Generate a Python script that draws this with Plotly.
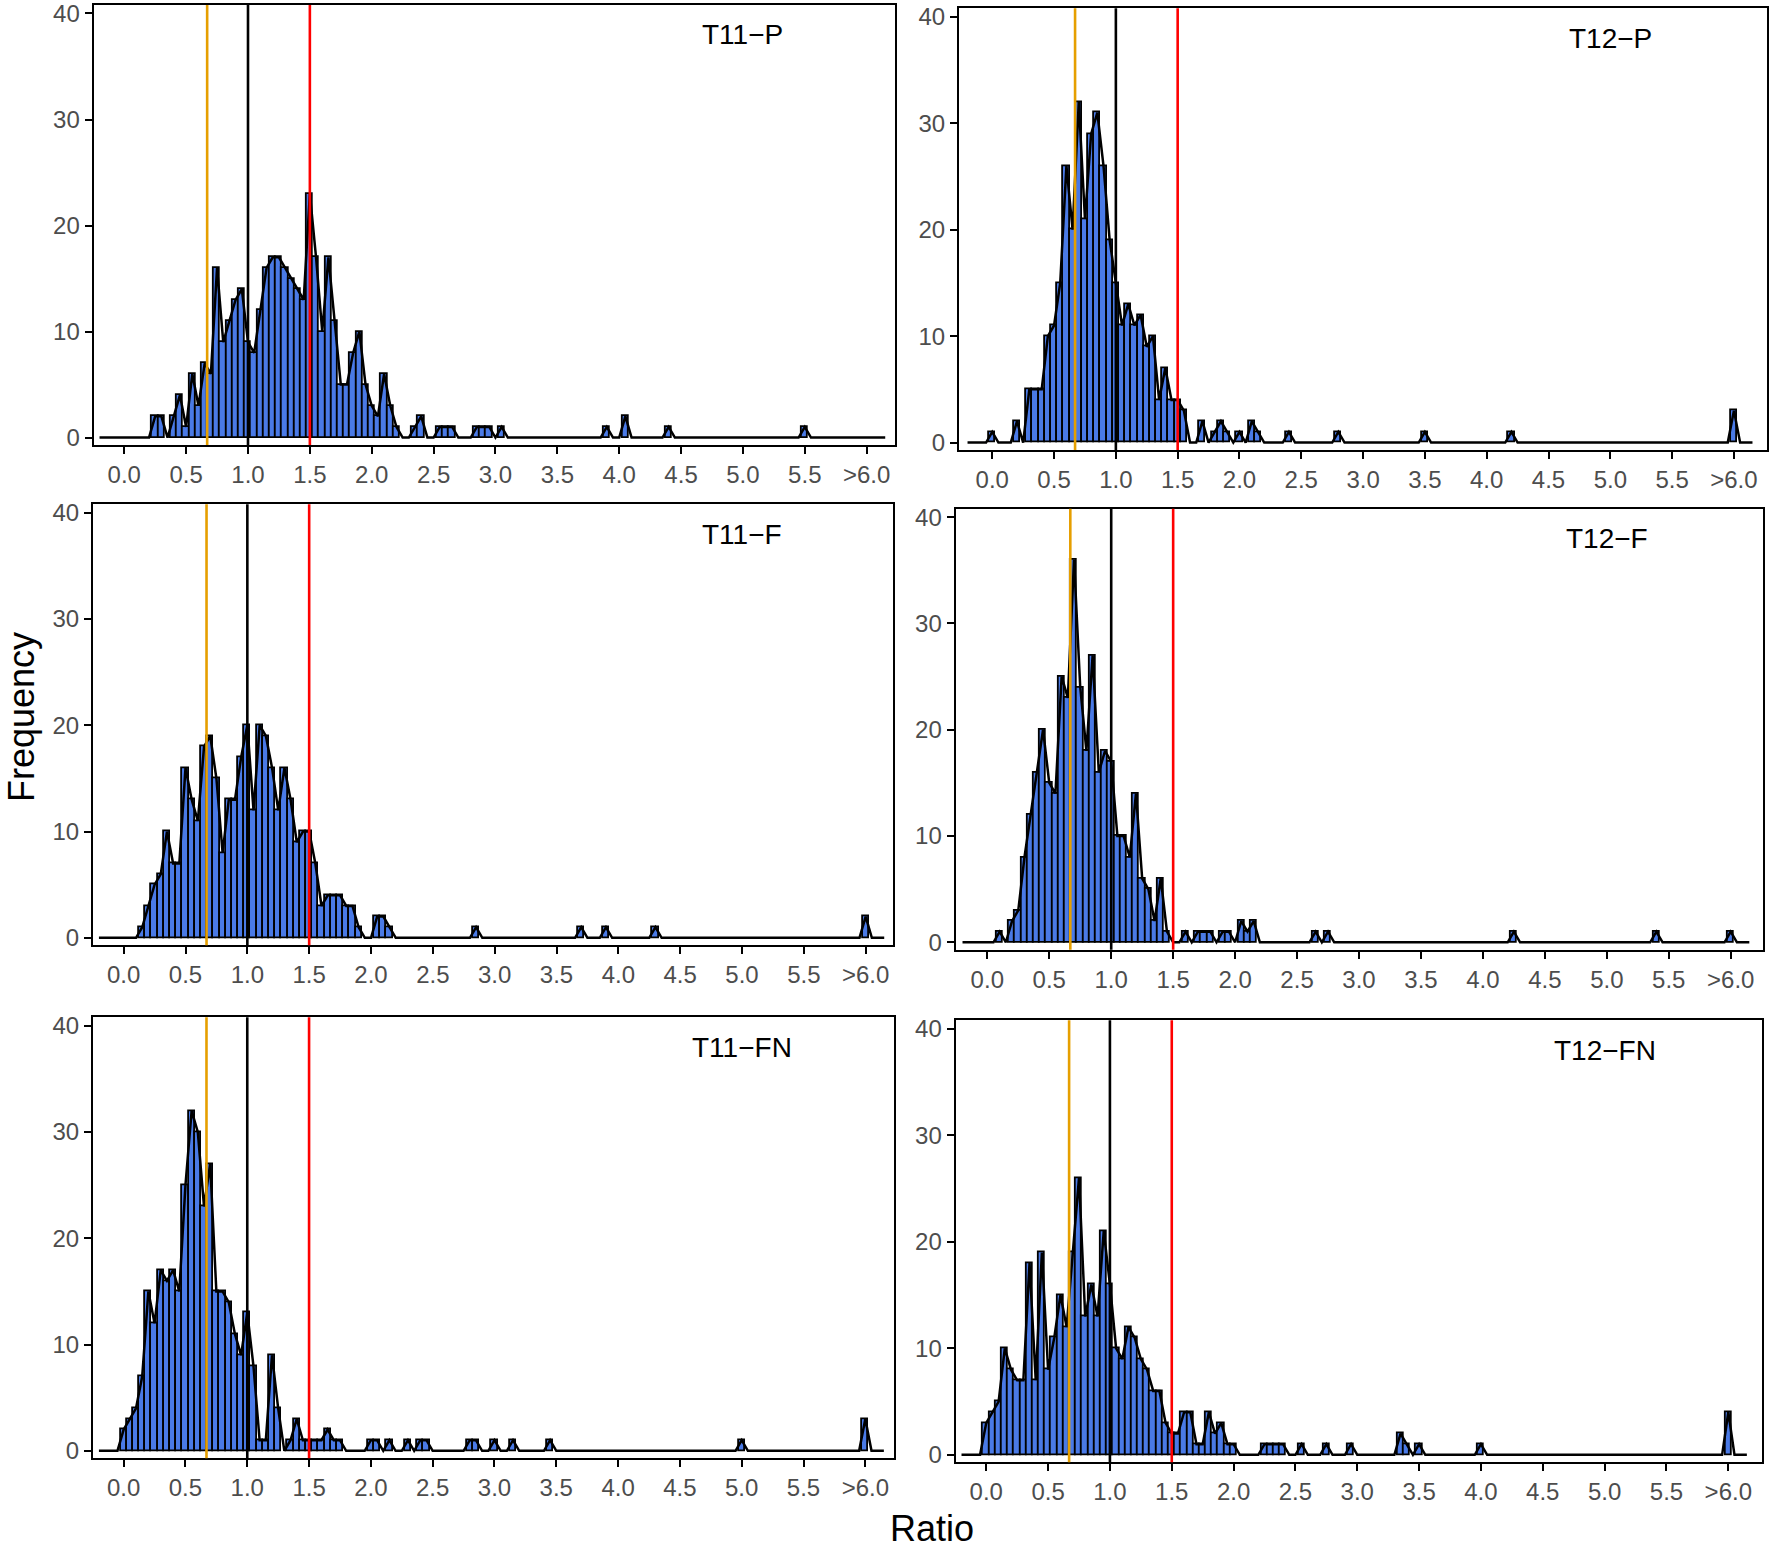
import numpy as np
import plotly.graph_objects as go

# ---------------- data (bin centre, count) ----------------
x_tick_vals = [0.0, 0.5, 1.0, 1.5, 2.0, 2.5, 3.0, 3.5, 4.0, 4.5, 5.0, 5.5, 6.0]
x_tick_text = ["0.0", "0.5", "1.0", "1.5", "2.0", "2.5", "3.0", "3.5", "4.0", "4.5", "5.0", "5.5", ">6.0"]
y_tick_vals = [0, 10, 20, 30, 40]

panel_names = ["T11\u2212P", "T12\u2212P", "T11\u2212F", "T12\u2212F", "T11\u2212FN", "T12\u2212FN"]

t11p_bins = [0.25, 0.30, 0.40, 0.45, 0.50, 0.55, 0.60, 0.65, 0.70, 0.75, 0.80, 0.85, 0.90, 0.95,
             1.00, 1.05, 1.10, 1.15, 1.20, 1.25, 1.30, 1.35, 1.40, 1.45, 1.50, 1.55, 1.60, 1.65,
             1.70, 1.75, 1.80, 1.85, 1.90, 1.95, 2.00, 2.05, 2.10, 2.15, 2.20, 2.35, 2.40, 2.55,
             2.60, 2.65, 2.85, 2.90, 2.95, 3.05, 3.90, 4.05, 4.40, 5.50]
t11p_counts = [2, 2, 2, 4, 1, 6, 3, 7, 6, 16, 9, 11, 13, 14,
               9, 8, 12, 16, 17, 17, 16, 15, 14, 13, 23, 17, 10, 17,
               11, 5, 5, 8, 10, 5, 3, 2, 6, 3, 1, 1, 2, 1,
               1, 1, 1, 1, 1, 1, 1, 2, 1, 1]

t12p_bins = [0.00, 0.20, 0.30, 0.35, 0.40, 0.45, 0.50, 0.55, 0.60, 0.65, 0.70, 0.75, 0.80, 0.85,
             0.90, 0.95, 1.00, 1.05, 1.10, 1.15, 1.20, 1.25, 1.30, 1.35, 1.40, 1.45, 1.50, 1.55,
             1.70, 1.80, 1.85, 1.90, 2.00, 2.10, 2.15, 2.40, 2.80, 3.50, 4.20, 6.00]
t12p_counts = [1, 2, 5, 5, 5, 10, 11, 15, 26, 20, 32, 21, 29, 31,
               26, 19, 15, 11, 13, 11, 12, 9, 10, 4, 7, 4, 4, 3,
               2, 1, 2, 1, 1, 2, 1, 1, 1, 1, 1, 3]

t11f_bins = [0.15, 0.20, 0.25, 0.30, 0.35, 0.40, 0.45, 0.50, 0.55, 0.60, 0.65, 0.70, 0.75, 0.80,
             0.85, 0.90, 0.95, 1.00, 1.05, 1.10, 1.15, 1.20, 1.25, 1.30, 1.35, 1.40, 1.45, 1.50,
             1.55, 1.60, 1.65, 1.70, 1.75, 1.80, 1.85, 1.90, 2.05, 2.10, 2.15, 2.85, 3.70, 3.90,
             4.30, 6.00]
t11f_counts = [1, 3, 5, 6, 10, 7, 7, 16, 13, 11, 18, 19, 15, 8,
               13, 13, 17, 20, 12, 20, 19, 16, 12, 16, 13, 9, 10, 10,
               7, 3, 4, 4, 4, 3, 3, 1, 2, 2, 1, 1, 1, 1,
               1, 2]

t12f_bins = [0.10, 0.20, 0.25, 0.30, 0.35, 0.40, 0.45, 0.50, 0.55, 0.60, 0.65, 0.70, 0.75, 0.80,
             0.85, 0.90, 0.95, 1.00, 1.05, 1.10, 1.15, 1.20, 1.25, 1.30, 1.35, 1.40, 1.45, 1.60,
             1.70, 1.75, 1.80, 1.90, 1.95, 2.05, 2.10, 2.15, 2.65, 2.75, 4.25, 5.40, 6.00]
t12f_counts = [1, 2, 3, 8, 12, 16, 20, 15, 14, 25, 23, 36, 24, 18,
               27, 16, 18, 17, 10, 10, 8, 14, 6, 5, 2, 6, 1, 1,
               1, 1, 1, 1, 1, 2, 1, 2, 1, 1, 1, 1, 1]

t11fn_bins = [0.00, 0.05, 0.10, 0.15, 0.20, 0.25, 0.30, 0.35, 0.40, 0.45, 0.50, 0.55, 0.60, 0.65,
              0.70, 0.75, 0.80, 0.85, 0.90, 0.95, 1.00, 1.05, 1.10, 1.15, 1.20, 1.25, 1.35, 1.40,
              1.45, 1.50, 1.55, 1.60, 1.65, 1.70, 1.75, 2.00, 2.05, 2.15, 2.30, 2.40, 2.45, 2.80,
              2.85, 3.00, 3.15, 3.45, 5.00, 6.00]
t11fn_counts = [2, 3, 4, 7, 15, 12, 17, 16, 17, 15, 25, 32, 30, 23,
                27, 15, 15, 14, 11, 9, 13, 8, 1, 1, 9, 4, 1, 3,
                1, 1, 1, 1, 2, 1, 1, 1, 1, 1, 1, 1, 1, 1,
                1, 1, 1, 1, 1, 3]

t12fn_bins = [0.00, 0.05, 0.10, 0.15, 0.20, 0.25, 0.30, 0.35, 0.40, 0.45, 0.50, 0.55, 0.60, 0.65,
              0.70, 0.75, 0.80, 0.85, 0.90, 0.95, 1.00, 1.05, 1.10, 1.15, 1.20, 1.25, 1.30, 1.35,
              1.40, 1.45, 1.50, 1.55, 1.60, 1.65, 1.70, 1.75, 1.80, 1.85, 1.90, 1.95, 2.00, 2.25,
              2.30, 2.35, 2.40, 2.55, 2.75, 2.95, 3.35, 3.40, 3.50, 4.00, 6.00]
t12fn_counts = [3, 4, 5, 10, 8, 7, 7, 18, 7, 19, 8, 11, 15, 12,
                19, 26, 13, 16, 13, 21, 16, 10, 9, 12, 11, 9, 8, 6,
                6, 3, 2, 2, 4, 4, 1, 1, 4, 2, 3, 1, 1, 1,
                1, 1, 1, 1, 1, 1, 2, 1, 1, 1, 4]

ref_lines = [0.67, 1.0, 1.5]

# ---------------- styling / layout ----------------
W, H = 1770, 1551
BIN_W = 0.05
BAR_FILL = "#4A7AE6"
LINE_COLORS = ["#E69F00", "#000000", "#FF0000"]
FONT = "Liberation Sans, Arial, sans-serif"

# panel boxes in pixels (x0, x1, y0, y1) and x ranges
panels = [
    (t11p_bins, t11p_counts, (93.7, 895.0, 5.0, 445.0), (-0.247, 6.229)),
    (t12p_bins, t12p_counts, (959.0, 1766.7, 8.3, 450.0), (-0.269, 6.265)),
    (t11f_bins, t11f_counts, (93.0, 893.0, 504.3, 945.3), (-0.248, 6.221)),
    (t12f_bins, t12f_counts, (955.7, 1762.7, 508.7, 949.7), (-0.255, 6.258)),
    (t11fn_bins, t11fn_counts, (93.0, 894.0, 1017.3, 1458.3), (-0.248, 6.232)),
    (t12fn_bins, t12fn_counts, (955.7, 1761.7, 1020.3, 1462.3), (-0.247, 6.270)),
]
Y_RANGE = [-0.7, 40.8]

# full bin grid used by the frequency polygon
grid = np.round(np.arange(-0.20, 6.15 + 1e-9, BIN_W), 2)

fig = go.Figure()
layout = dict(
    width=W, height=H,
    margin=dict(l=0, r=0, t=0, b=0, autoexpand=False),
    paper_bgcolor="white", plot_bgcolor="white",
    showlegend=False,
    font=dict(family=FONT),
)
shapes = []
annotations = []

for i, (bins, counts, box, xr) in enumerate(panels, start=1):
    xa = "x" if i == 1 else f"x{i}"
    ya = "y" if i == 1 else f"y{i}"
    fig.add_trace(go.Bar(
        x=bins, y=counts, width=BIN_W,
        marker=dict(color=BAR_FILL, line=dict(color="black", width=1.8)),
        xaxis=xa, yaxis=ya, hoverinfo="x+y",
    ))
    lookup = {round(b, 2): c for b, c in zip(bins, counts)}
    poly = [lookup.get(round(float(g), 2), 0) for g in grid]
    fig.add_trace(go.Scatter(
        x=grid, y=poly, mode="lines",
        line=dict(color="black", width=2.5),
        xaxis=xa, yaxis=ya, hoverinfo="skip",
    ))
    x0, x1, y0, y1 = box
    axis_common = dict(
        showline=True, mirror=True, linecolor="black", linewidth=2.2,
        showgrid=False, zeroline=False,
        ticks="outside", ticklen=7, tickwidth=2.2, tickcolor="black",
        tickfont=dict(size=24, color="#4D4D4D", family=FONT),
        ticklabeloverflow="allow",
    )
    layout["xaxis" if i == 1 else f"xaxis{i}"] = dict(
        domain=[x0 / W, x1 / W], range=list(xr), anchor=ya,
        tickmode="array", tickvals=x_tick_vals, ticktext=x_tick_text,
        **axis_common,
    )
    layout["yaxis" if i == 1 else f"yaxis{i}"] = dict(
        domain=[1 - y1 / H, 1 - y0 / H], range=Y_RANGE, anchor=xa,
        tickmode="array", tickvals=y_tick_vals,
        **axis_common,
    )
    for v, col in zip(ref_lines, LINE_COLORS):
        shapes.append(dict(
            type="line", xref=xa, yref=f"{ya} domain",
            x0=v, x1=v, y0=0, y1=1,
            line=dict(color=col, width=2.6), layer="above",
        ))
    annotations.append(dict(
        x=5.0, y=38, xref=xa, yref=ya, text=panel_names[i - 1],
        showarrow=False, xanchor="center", yanchor="middle",
        font=dict(size=28, color="black", family=FONT),
    ))

annotations.append(dict(
    x=21 / W, y=1 - 717 / H, xref="paper", yref="paper", text="Frequency",
    showarrow=False, textangle=-90, xanchor="center", yanchor="middle",
    font=dict(size=36, color="black", family=FONT),
))
annotations.append(dict(
    x=932 / W, y=1 - 1528 / H, xref="paper", yref="paper", text="Ratio",
    showarrow=False, xanchor="center", yanchor="middle",
    font=dict(size=36, color="black", family=FONT),
))

layout["shapes"] = shapes
layout["annotations"] = annotations
layout["bargap"] = 0
fig.update_layout(**layout)

fig.write_html(
    "out.html",
    config={"displayModeBar": False},
    post_script="document.body.style.margin='0';document.body.style.padding='0';",
)
